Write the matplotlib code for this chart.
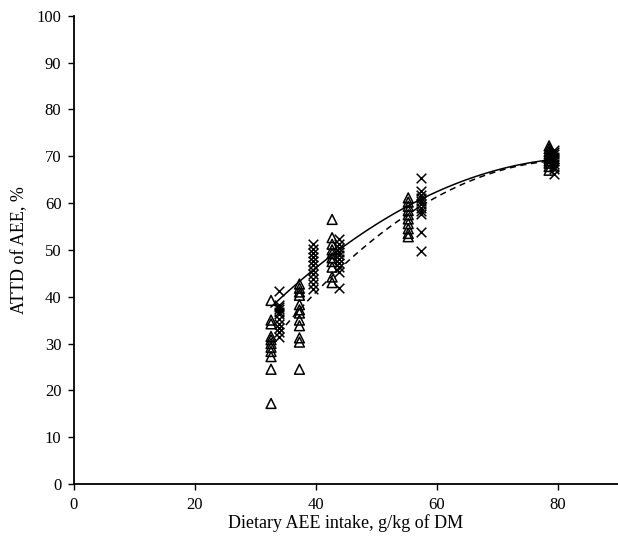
import matplotlib
matplotlib.use('Agg')
import matplotlib.pyplot as plt
import numpy as np

plt.rcParams['font.family'] = ['Liberation Serif', 'DejaVu Serif']

# AEE intake levels (g/kg DM) for the two groups
tri_x = [32.6, 37.3, 42.7, 55.3, 78.6]
crs_x = [33.9, 39.5, 43.8, 57.4, 79.4]

# ATTD of AEE (%)
tri_y = [
    [17.2, 24.5, 27.2, 28.3, 29.2, 30.0, 30.8, 31.5, 34.2, 35.0, 39.2],
    [24.5, 30.3, 31.2, 33.8, 35.0, 36.5, 37.2, 38.3, 40.3, 41.0, 41.8, 42.7],
    [43.0, 44.2, 46.3, 47.5, 48.3, 49.2, 50.0, 51.2, 52.6, 56.5],
    [52.8, 53.5, 54.5, 55.6, 56.6, 57.5, 58.4, 59.3, 60.2, 61.1],
    [67.0, 67.8, 68.5, 69.0, 69.5, 70.0, 70.5, 71.0, 71.6, 72.2],
]
crs_y = [
    [31.4, 32.4, 33.3, 34.2, 35.3, 36.2, 36.8, 37.3, 37.8, 38.3, 41.2],
    [41.7, 42.8, 43.8, 44.8, 45.7, 46.8, 47.7, 48.4, 49.3, 50.2, 51.3],
    [41.8, 45.3, 46.3, 47.2, 48.0, 48.8, 49.6, 50.4, 51.2, 52.4],
    [49.8, 53.8, 57.6, 58.3, 59.0, 59.7, 60.4, 61.1, 61.8, 62.6, 65.3],
    [66.2, 67.2, 67.8, 68.4, 68.9, 69.4, 69.9, 70.4, 70.9, 71.3],
]

# quadratic fits (a, b, c) for y = a*x^2 + b*x + c
fit_solid = [-0.011574, 1.9696, -14.11]
fit_dashed = [-0.015779, 2.5967, -37.70]

fig = plt.figure(figsize=(6.18, 5.42), dpi=100)
ax = fig.add_axes([0.1197, 0.107, 0.8803, 0.864])

for xv, ys in zip(tri_x, tri_y):
    ax.scatter([xv] * len(ys), ys, marker='^', s=50, facecolors='none',
               edgecolors='black', linewidths=1.1, zorder=3)
for xv, ys in zip(crs_x, crs_y):
    ax.scatter([xv] * len(ys), ys, marker='x', s=48, color='black',
               linewidths=1.1, zorder=3)

xs = np.linspace(tri_x[0], tri_x[-1], 100)
ax.plot(xs, np.polyval(fit_solid, xs), color='black', lw=1.1, zorder=2)
xd = np.linspace(crs_x[0], crs_x[-1], 100)
ax.plot(xd, np.polyval(fit_dashed, xd), color='black', lw=1.1,
        linestyle=(0, (4, 3)), zorder=2)

ax.set_xlim(0, 90)
ax.set_ylim(0, 100)
ax.set_xticks([0, 20, 40, 60, 80])
ax.set_yticks(np.arange(0, 101, 10))
ax.spines['top'].set_visible(False)
ax.spines['right'].set_visible(False)
ax.spines['left'].set_linewidth(1.3)
ax.spines['bottom'].set_linewidth(1.3)
ax.tick_params(direction='out', length=4, width=1, labelsize=12, pad=5)

ax.set_xlabel('Dietary AEE intake, g/kg of DM', fontsize=13, labelpad=1)
ax.set_ylabel('ATTD of AEE, %', fontsize=13, labelpad=6)

fig.savefig('out.png', dpi=100)
